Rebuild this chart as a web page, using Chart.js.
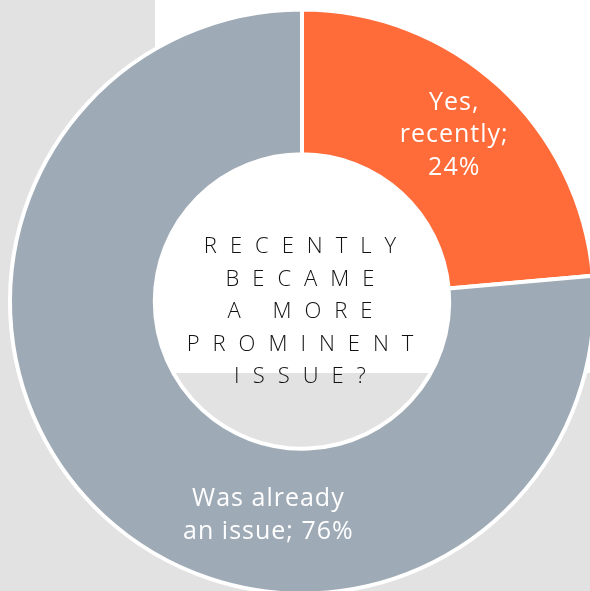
<!DOCTYPE html>
<html>
<head>
<meta charset="utf-8">
<script src="https://cdn.jsdelivr.net/npm/chart.js@4"></script>
<style>
  html, body { margin:0; padding:0; width:590px; height:591px; overflow:hidden; background:#e2e2e2; }
  #white { position:absolute; left:155px; top:0; width:435px; height:373px; background:#ffffff; }
  #wrap { position:absolute; left:0; top:0; width:604px; height:603px; }
  #center { position:absolute; left:150px; top:228px; width:300px; text-align:center;
    font-family:"Open Sans", sans-serif; font-weight:300; font-size:22px; line-height:32.5px;
    letter-spacing:13px; color:#111111; }
  #center div { padding-left:13px; }
</style>
</head>
<body>
<div id="white"></div>
<div id="wrap"><canvas id="c" width="604" height="603"></canvas></div>
<div id="center">
  <div>RECENTLY</div><div>BECAME</div><div>A MORE</div><div>PROMINENT</div><div>ISSUE?</div>
</div>
<script>
const categories = ["Yes, recently", "Was already an issue"];
const values = [23.6, 76.4];
const sliceLabels = [["Yes,", "recently;", "24%"], ["Was already", "an issue; 76%"]];
const colors = ["#ff6b39", "#9eaab5"];

const labelPlugin = {
  id: 'sliceLabels',
  afterDatasetsDraw(chart, args, opts) {
    const ctx = chart.ctx;
    const meta = chart.getDatasetMeta(0);
    meta.data.forEach((arc, i) => {
      const p = arc.getProps(['x','y','startAngle','endAngle','innerRadius','outerRadius'], true);
      const frac = opts.angleFrac[i];
      const ang = p.startAngle + (p.endAngle - p.startAngle) * frac;
      const r = p.innerRadius + (p.outerRadius - p.innerRadius) * opts.radiusFrac[i];
      const cx = p.x + Math.cos(ang) * r;
      const cy = p.y + Math.sin(ang) * r;
      const lines = sliceLabels[i];
      ctx.save();
      ctx.fillStyle = '#ffffff';
      ctx.font = '400 25px "Open Sans", sans-serif';
      ctx.letterSpacing = '1px';
      ctx.textAlign = 'center';
      ctx.textBaseline = 'middle';
      const lh = 32.5;
      lines.forEach((t, k) => {
        ctx.fillText(t, cx, cy + (k - (lines.length - 1) / 2) * lh);
      });
      ctx.restore();
    });
  }
};

new Chart(document.getElementById('c'), {
  type: 'doughnut',
  data: {
    labels: categories,
    datasets: [{
      data: values,
      backgroundColor: colors,
      borderColor: '#ffffff',
      borderWidth: 4,
      hoverOffset: 0
    }]
  },
  options: {
    responsive: false,
    animation: false,
    radius: 292,
    cutout: 151,
    layout: { padding: 0 },
    events: [],
    plugins: {
      legend: { display: false },
      tooltip: { enabled: false },
      sliceLabels: { angleFrac: [0.5, 0.378], radiusFrac: [0.54, 0.48] }
    }
  },
  plugins: [labelPlugin]
});
</script>
</body>
</html>
